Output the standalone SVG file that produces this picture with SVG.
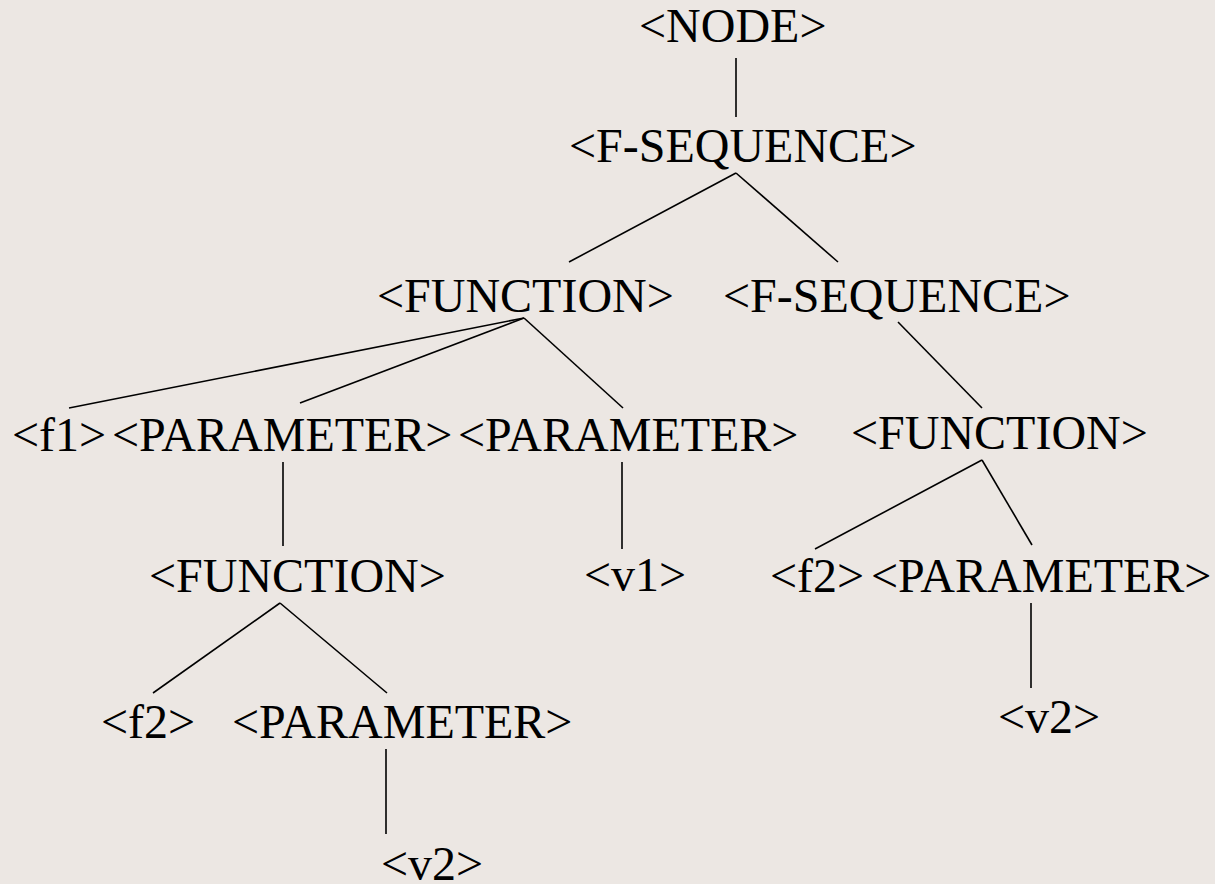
<svg xmlns="http://www.w3.org/2000/svg" width="1215" height="884" viewBox="0 0 1215 884">
<style>
.t{font-family:"Liberation Serif","Times New Roman",serif;font-size:48px;fill:#000}
.e{stroke:#000;stroke-width:1.6;fill:none;stroke-linecap:butt}
</style>
<rect width="1215" height="884" fill="#ECE7E3"/>
<g id="connectors">
<line class="e" x1="736" y1="58" x2="736" y2="117"/>
<line class="e" x1="736" y1="173" x2="569" y2="262"/>
<line class="e" x1="736" y1="173" x2="838" y2="262"/>
<line class="e" x1="524" y1="318" x2="69" y2="408"/>
<line class="e" x1="524" y1="318" x2="300" y2="403"/>
<line class="e" x1="524" y1="318" x2="623" y2="408"/>
<line class="e" x1="898" y1="322" x2="982" y2="408"/>
<line class="e" x1="283" y1="462" x2="283" y2="546"/>
<line class="e" x1="622" y1="462" x2="622" y2="549"/>
<line class="e" x1="982" y1="460" x2="815" y2="549"/>
<line class="e" x1="982" y1="460" x2="1032" y2="545"/>
<line class="e" x1="280" y1="603" x2="153" y2="693"/>
<line class="e" x1="280" y1="603" x2="387" y2="693"/>
<line class="e" x1="1031" y1="603" x2="1031" y2="688"/>
<line class="e" x1="386" y1="749" x2="386" y2="834"/>
</g>
<g id="n1"><text class="t" x="639" y="42">&lt;NODE&gt;</text></g>
<g id="n2"><text class="t" x="569" y="162">&lt;F-SEQUENCE&gt;</text></g>
<g id="n3"><text class="t" x="377" y="312">&lt;FUNCTION&gt;</text></g>
<g id="n4"><text class="t" x="723" y="312">&lt;F-SEQUENCE&gt;</text></g>
<g id="n5"><text class="t" x="12" y="451">&lt;f1&gt;</text></g>
<g id="n6"><text class="t" x="112" y="451">&lt;PARAMETER&gt;</text></g>
<g id="n7"><text class="t" x="458" y="451">&lt;PARAMETER&gt;</text></g>
<g id="n8"><text class="t" x="851" y="449">&lt;FUNCTION&gt;</text></g>
<g id="n9"><text class="t" x="149" y="592">&lt;FUNCTION&gt;</text></g>
<g id="n10"><text class="t" x="584" y="591">&lt;v1&gt;</text></g>
<g id="n11"><text class="t" x="770" y="592">&lt;f2&gt;</text></g>
<g id="n12"><text class="t" x="871" y="592">&lt;PARAMETER&gt;</text></g>
<g id="n13"><text class="t" x="101" y="738">&lt;f2&gt;</text></g>
<g id="n14"><text class="t" x="232" y="738">&lt;PARAMETER&gt;</text></g>
<g id="n15"><text class="t" x="998" y="733">&lt;v2&gt;</text></g>
<g id="n16"><text class="t" x="381" y="880">&lt;v2&gt;</text></g>
</svg>
